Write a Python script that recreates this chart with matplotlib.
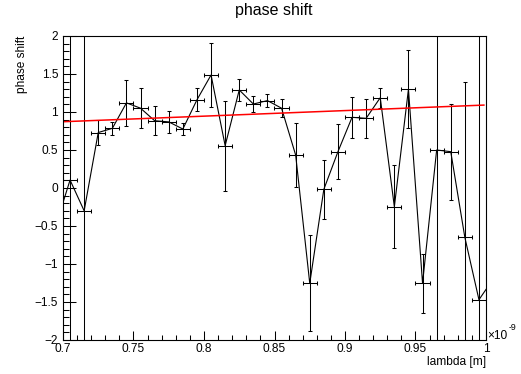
import matplotlib
matplotlib.use("Agg")
import matplotlib.pyplot as plt
from matplotlib.ticker import MultipleLocator, FuncFormatter

plt.rcParams['font.family'] = ['Liberation Sans', 'DejaVu Sans']

# wavelength bins (units of 1e-9 m), measured phase shift and its uncertainty
lam = [0.695, 0.705, 0.715, 0.725, 0.735, 0.745, 0.755, 0.765, 0.775, 0.785,
       0.795, 0.805, 0.815, 0.825, 0.835, 0.845, 0.855, 0.865, 0.875, 0.885,
       0.895, 0.905, 0.915, 0.925, 0.935, 0.945, 0.955, 0.965, 0.975, 0.985,
       0.995, 1.005]
phase = [-0.49, 0.105, -0.30, 0.73, 0.785, 1.12, 1.05, 0.885, 0.87, 0.776,
         1.16, 1.487, 0.557, 1.29, 1.105, 1.15, 1.05, 0.434, -1.254, -0.017,
         0.478, 0.93, 0.917, 1.188, -0.246, 1.30, -1.254, 0.50, 0.478, -0.65,
         -1.47, -1.2]
phase_err = [6.0, 6.0, 6.0, 0.16, 0.09, 0.30, 0.26, 0.19, 0.14, 0.08,
             0.15, 0.42, 0.59, 0.14, 0.10, 0.09, 0.12, 0.42, 0.63, 0.39,
             0.36, 0.27, 0.26, 0.13, 0.55, 0.51, 0.39, 6.0, 0.63, 2.04,
             6.0, 6.0]
lam_err = 0.005

# linear fit result: phase = p0 + p1 * lambda
fit_p0 = 0.3587
fit_p1 = 0.7333
fit_range = [0.7, 0.9985]

W, H = 521, 374
fig = plt.figure(figsize=(W / 100, H / 100), dpi=100)
ax = fig.add_axes([63 / W, (H - 340) / H, 423 / W, 304 / H])

ax.errorbar(lam, phase, yerr=phase_err, xerr=lam_err, fmt='none',
            ecolor='black', elinewidth=0.75, capsize=1.1, capthick=0.75)
ax.plot(lam, phase, color='black', lw=0.8)
ax.plot(fit_range, [fit_p0 + fit_p1 * v for v in fit_range],
        color='#ff0000', lw=1.1)

ax.set_xlim(0.7, 1.0)
ax.set_ylim(-2, 2)

ax.xaxis.set_major_locator(MultipleLocator(0.05))
ax.xaxis.set_minor_locator(MultipleLocator(0.01))
ax.yaxis.set_major_locator(MultipleLocator(0.5))
ax.yaxis.set_minor_locator(MultipleLocator(0.1))

fmt = FuncFormatter(lambda v, p: ('%g' % round(v, 4)).replace('-', '\u2212'))
ax.xaxis.set_major_formatter(fmt)
ax.yaxis.set_major_formatter(fmt)

ax.tick_params(axis='both', which='both', direction='in', top=False,
               right=False, width=0.75, labelsize=8.6)
ax.tick_params(axis='x', which='major', length=6.5, pad=2.2)
ax.tick_params(axis='x', which='minor', length=3.3)
ax.tick_params(axis='y', which='major', length=9.1, pad=3.5)
ax.tick_params(axis='y', which='minor', length=4.6)

for s in ax.spines.values():
    s.set_linewidth(0.8)

fig.text(273.5 / W, 1 - 11 / H, 'phase shift', ha='center', va='center',
         fontsize=11.5)
fig.text(22 / W, 1 - 36 / H, 'phase shift', rotation=90, ha='center',
         va='top', fontsize=8.6)
fig.text(486 / W, 1 - 356 / H, 'lambda [m]', ha='right', va='top',
         fontsize=8.6)
fig.text(487 / W, 1 - 339 / H, '\u00d710', ha='left', va='baseline',
         fontsize=8.6)
fig.text(508.5 / W, 1 - 330 / H, '-9', ha='left', va='baseline',
         fontsize=6.3)

fig.savefig('out.png', dpi=100)
